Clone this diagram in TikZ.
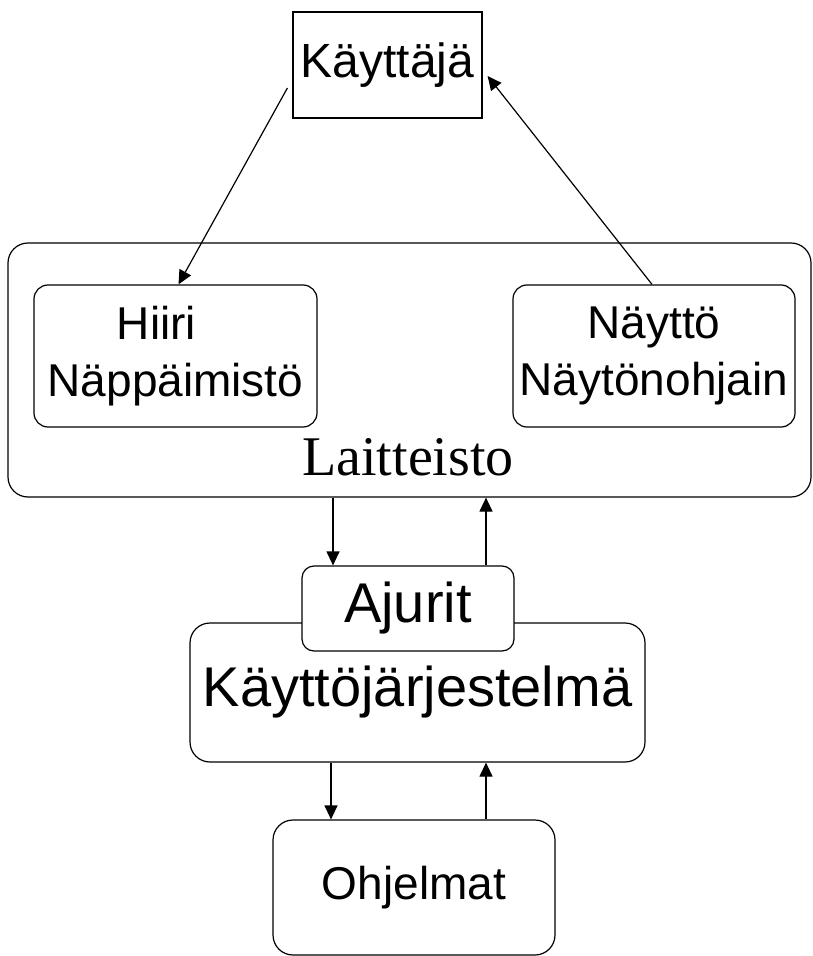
\documentclass[tikz,border=0pt]{standalone}
\usepackage{fontspec}
\usepackage{tikz}
\usetikzlibrary{arrows.meta,calc}
\newfontfamily\boxfont{Liberation Sans}
\newfontfamily\labelfont{Liberation Serif}
\tikzset{
	unit/.style={draw, line width=0.6pt, inner sep=0pt, align=center, fill=white},
	sharpbox/.style={unit, font={\boxfont\fontsize{24}{29}\selectfont}},
	roundbox/.style={unit, rounded corners=7pt, font={\boxfont\fontsize{23}{28.5}\selectfont}},
	bigbox/.style={roundbox, rounded corners=10pt, font={\boxfont\fontsize{28}{33}\selectfont}},
	arr/.style={line width=0.6pt, -{Triangle[length=7pt,width=6.5pt]}}
}
\begin{document}
\begin{tikzpicture}[x=0.5pt, y=-0.5pt]
	\useasboundingbox (0,0) rectangle (812,956);
	\node[sharpbox, minimum width=94.5pt, minimum height=53pt] (user) at (387.5,65) {Käyttäjä};
	\node[roundbox, rounded corners=10pt, minimum width=401.5pt, minimum height=127pt] (hw) at (409.5,370) {};
	\node[roundbox, minimum width=141.5pt, minimum height=71pt] (input) at (175.5,356) {Hiiri\hspace*{19pt}\\Näppäimistö};
	\node[roundbox, minimum width=141pt, minimum height=71pt] (output) at (654,356) {Näyttö\\Näytönohjain};
	\node[anchor=base, inner sep=0pt, font={\labelfont\fontsize{28}{33}\selectfont}] (hwlabel) at (408,475) {Laitteisto};
	\node[bigbox, minimum width=227.5pt, minimum height=69.5pt] (os) at (417.5,692.5) {Käyttöjärjestelmä};
	\node[bigbox, rounded corners=6pt, minimum width=106pt, minimum height=42.5pt] (drivers) at (408,608.5) {Ajurit};
	\node[roundbox, rounded corners=10pt, minimum width=141pt, minimum height=67.5pt] (prog) at (414,887.5) {Ohjelmat};

	% kayttaja <-> laitteisto
	\draw[arr] ([xshift=-2.5pt,yshift=-11.5pt]user.west) -- ([xshift=1.5pt]input.north);
	\draw[arr] ([xshift=-1pt]output.north) -- ([xshift=2.5pt,yshift=-5.5pt]user.east);

	% laitteisto <-> ajurit
	\coordinate (hwdown) at ($(drivers.north)+(-75,0)$);
	\coordinate (hwup) at ($(drivers.north)+(78,0)$);
	\draw[arr] (hwdown |- hw.south) -- (hwdown);
	\draw[arr] (hwup) -- (hwup |- hw.south);

	% kayttojarjestelma <-> ohjelmat
	\coordinate (osdown) at ($(prog.north)+(-83,0)$);
	\coordinate (osup) at ($(prog.north)+(72,0)$);
	\draw[arr] (osdown |- os.south) -- (osdown);
	\draw[arr] (osup) -- (osup |- os.south);
\end{tikzpicture}
\end{document}
